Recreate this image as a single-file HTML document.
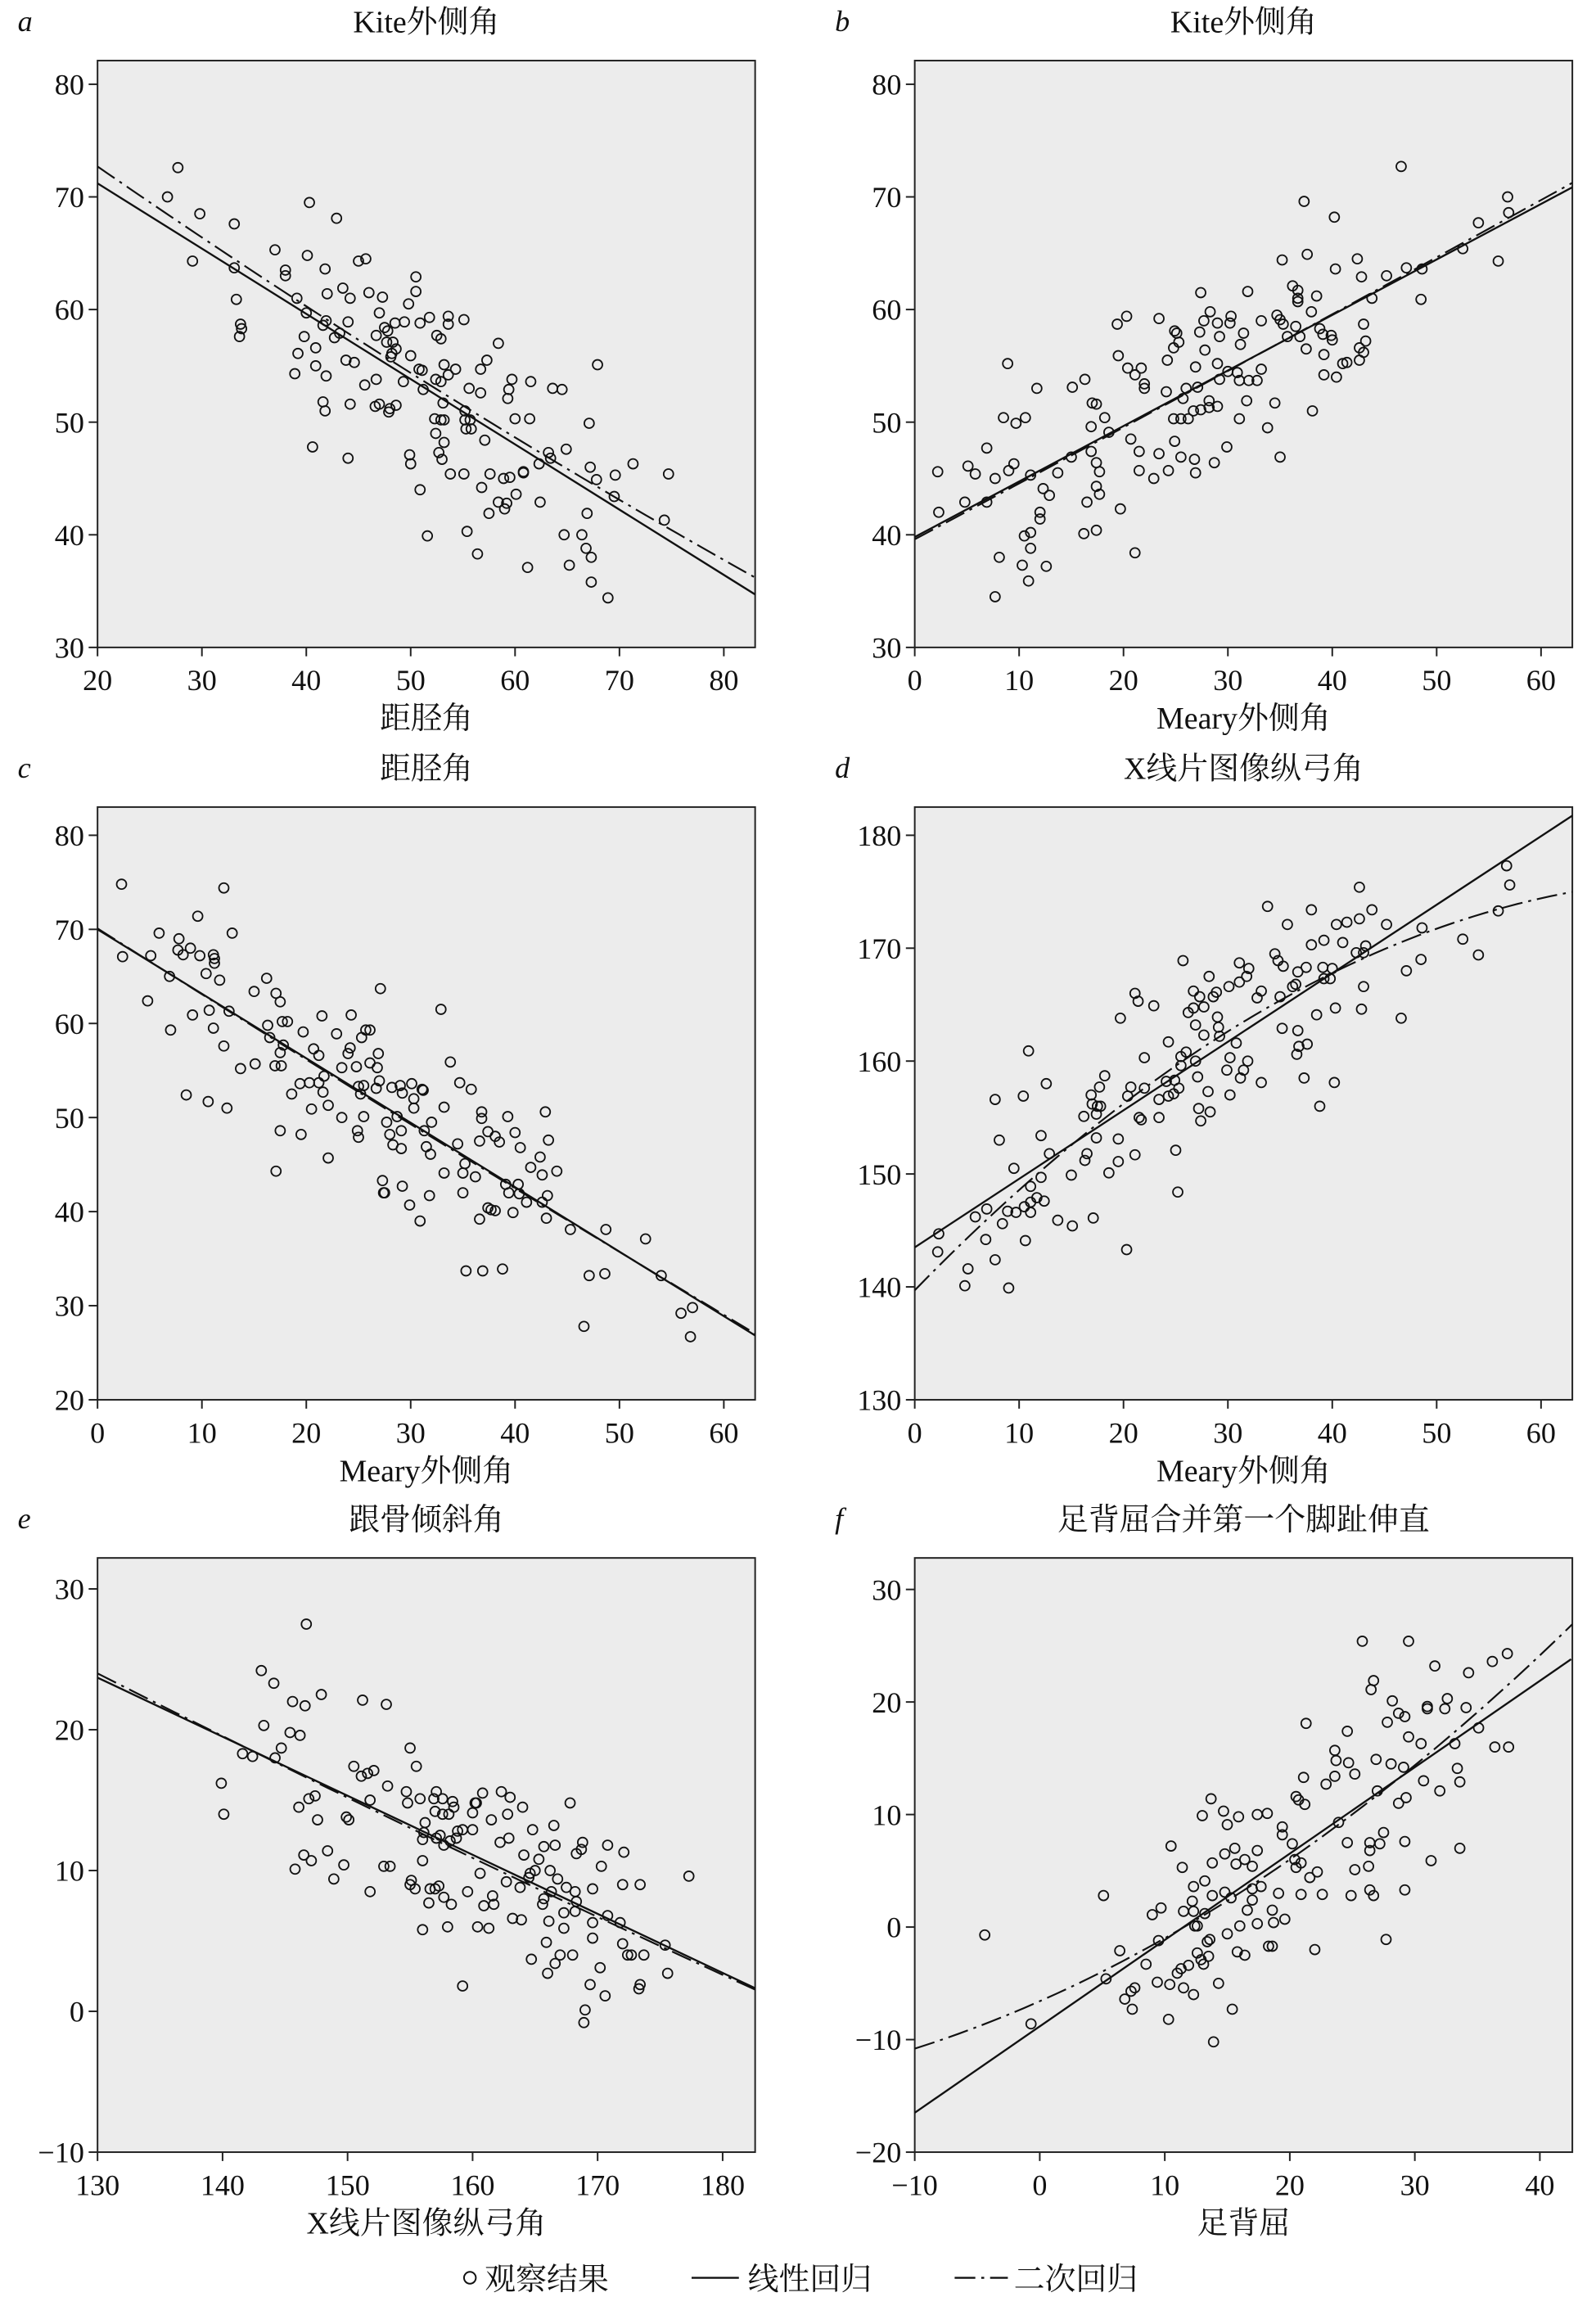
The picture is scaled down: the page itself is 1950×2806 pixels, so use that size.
<!DOCTYPE html>
<html><head><meta charset="utf-8"><style>
html,body{margin:0;padding:0;background:#fff;}
svg{display:block;}
text{font-family:"Liberation Serif","Noto Serif CJK SC",serif;fill:#111;}
</style></head><body>
<svg id="fig" width="1950" height="2806" viewBox="0 0 1080 1554" preserveAspectRatio="none" xmlns="http://www.w3.org/2000/svg"></svg>
<script>
// ---- data: panel a (x 距胫角, y Kite外侧角)
const aX=[26.7,27.7,29.8,29.1,33.1,33.1,33.3,33.7,33.8,33.6,37.0,38.0,38.0,40.3,40.1,39.1,40.0,39.8,39.2,38.9,40.6,40.9,40.9,41.8,42.0,41.9,41.6,41.9,41.6,41.8,42.9,43.5,44.2,44.0,43.2,42.7,43.8,44.6,44.2,44.0,45.0,45.7,46.0,45.6,46.7,46.7,47.0,47.3,47.5,47.7,47.8,48.5,48.3,48.6,48.2,48.1,47.0,46.6,48.0,47.9,48.6,49.3,49.4,49.8,50.0,49.9,50.0,50.5,50.5,50.9,50.8,51.1,51.2,50.9,51.8,51.6,52.5,52.9,52.4,52.9,52.3,52.4,52.7,53.0,53.1,53.2,53.2,53.6,53.6,53.6,53.8,54.3,53.2,52.9,55.1,55.1,55.2,55.2,55.3,55.7,55.8,55.6,55.4,56.7,57.3,56.7,57.1,56.8,57.6,57.5,56.4,58.4,59.7,59.4,59.3,58.9,59.5,58.4,59.2,59.0,60.0,60.1,60.8,60.8,61.5,61.4,61.2,62.3,62.4,63.2,63.4,63.6,64.5,64.9,64.7,65.2,66.4,66.8,66.9,67.1,67.2,67.3,67.3,67.9,67.8,68.9,69.6,69.5,71.3,74.3,74.7];
const aY=[70.0,72.6,68.5,64.3,67.6,63.7,60.9,58.7,58.3,57.6,65.3,63.5,63.0,69.5,64.8,61.0,59.7,57.6,56.1,54.3,47.8,56.6,55.0,63.6,61.4,59.0,58.6,54.1,51.8,51.0,68.1,61.9,61.0,58.9,57.9,57.5,55.5,55.3,51.6,46.8,64.3,64.5,61.5,53.3,53.8,57.7,59.7,61.1,58.4,57.1,58.1,58.8,57.1,56.5,56.1,55.8,51.6,51.4,51.2,50.9,51.5,53.6,58.9,60.5,55.9,47.1,46.3,62.9,61.6,58.8,54.7,54.6,52.9,44.0,59.3,39.9,57.7,57.4,53.8,53.6,50.3,49.0,47.3,46.7,51.7,48.2,55.1,59.4,58.7,54.2,45.4,54.7,50.2,50.2,59.1,45.4,51.0,50.2,49.4,50.2,49.4,53.0,40.3,54.7,55.5,52.6,48.4,44.2,45.4,41.9,38.3,57.0,53.8,52.9,52.1,45.0,45.1,42.9,42.8,42.3,50.3,43.6,45.6,45.5,53.6,50.3,37.1,46.3,42.9,47.3,46.8,53.0,52.9,47.6,40.0,37.3,40.0,38.8,41.9,49.9,46.0,38.0,35.8,55.1,44.9,34.4,45.3,43.4,46.3,41.3,45.4];
const aLinX=[20,83], aLinY=[71.2,34.7];
const aQuadX=[20,51.5,83], aQuadY=[72.7,53.5,36.2];
// ---- panel b (x Meary外侧角, y Kite外侧角)
const bX=[2.2,2.3,4.8,5.1,5.8,6.9,6.9,7.7,7.7,8.1,8.5,8.9,9.0,9.5,9.7,10.3,10.5,10.6,10.9,11.1,11.1,11.1,11.7,12.0,12.0,12.3,12.6,12.9,13.7,15.0,15.1,16.2,16.3,16.5,16.9,16.9,17.0,17.4,17.4,17.4,17.4,17.7,17.7,18.2,18.6,19.4,19.5,19.7,20.3,20.4,20.7,21.1,21.1,21.5,21.5,21.7,22.0,22.0,22.9,23.4,23.4,24.1,24.2,24.3,24.8,24.8,24.9,24.9,25.1,25.3,25.5,25.5,25.7,26.0,26.2,26.7,26.8,26.9,26.9,27.1,27.3,27.4,27.4,27.7,27.8,28.2,28.2,28.3,28.7,29.0,29.0,29.0,29.2,29.2,29.9,30.0,30.2,30.3,30.9,31.1,31.1,31.2,31.5,31.8,31.9,32.0,32.8,33.2,33.2,33.8,34.5,34.7,35.0,35.0,35.2,35.3,35.7,36.2,36.5,36.7,36.7,36.7,36.9,37.3,37.5,37.6,38.0,38.1,38.5,38.8,39.1,39.2,39.2,39.9,40.0,40.2,40.3,40.4,41.0,41.4,42.4,42.6,42.6,42.8,43.0,43.0,43.2,43.8,45.2,46.6,47.1,48.5,48.6,52.5,54.0,55.9,56.8,56.9];
const bY=[45.6,42.0,42.9,46.1,45.4,47.7,42.9,45.0,34.5,38.0,50.4,55.2,45.7,46.3,49.9,37.3,39.9,50.4,35.9,40.2,38.8,45.3,53.0,42.0,41.4,44.1,37.2,43.5,45.5,46.9,53.1,40.1,53.8,42.9,49.6,47.4,51.7,51.6,46.4,44.3,40.4,45.6,43.6,50.4,49.1,58.7,55.9,42.3,59.4,54.8,48.5,38.4,54.2,47.4,45.7,54.8,53.4,53.0,45.0,59.2,47.2,52.7,55.5,45.7,56.6,50.3,48.3,58.1,57.9,57.1,50.3,46.9,52.1,53.0,50.3,51.0,46.7,54.9,45.5,53.1,58.0,61.5,51.1,59.0,56.4,51.9,51.3,59.8,46.4,58.8,55.2,51.4,57.6,53.8,47.8,54.5,58.8,59.4,54.4,53.7,50.3,56.9,57.9,51.9,61.6,53.7,53.7,54.7,59.0,49.5,51.7,59.5,59.1,46.9,64.4,58.7,57.6,62.1,58.5,61.7,61.0,60.7,57.6,69.6,56.5,64.9,59.8,51.0,61.2,58.3,57.8,56.0,54.2,57.7,57.3,68.2,63.6,54.0,55.2,55.3,64.5,55.5,56.6,62.9,56.2,58.7,57.2,61.0,63.0,72.7,63.7,60.9,63.6,65.4,67.7,64.3,70.0,68.6];
const bLinX=[0,63.1], bLinY=[39.8,70.9];
const bQuadX=[0,31.5,63.1], bQuadY=[39.6,55.3,71.3];
// ---- panel c (x Meary外侧角, y 距胫角)
const cX=[2.3,2.4,4.8,5.1,5.9,6.9,7.0,7.8,7.7,8.2,8.9,8.5,9.1,9.6,9.8,10.4,10.6,10.7,11.1,11.2,11.2,11.1,11.7,12.1,12.1,12.4,12.6,12.9,13.7,15.0,15.1,16.2,16.3,16.5,17.0,17.1,17.1,17.5,17.5,17.5,17.6,17.8,17.7,18.2,18.6,19.4,19.5,19.7,20.3,20.5,20.7,21.2,21.2,21.5,21.6,21.7,22.1,22.1,22.9,23.4,23.4,24.0,24.2,24.3,24.8,24.9,25.0,25.0,25.2,25.3,25.5,25.5,25.7,26.1,26.1,26.8,26.7,26.9,27.0,27.1,27.3,27.4,27.5,27.7,28.0,28.2,28.3,28.7,29.0,29.1,29.1,29.2,29.2,29.9,30.1,30.3,30.3,31.1,31.2,31.3,30.9,31.5,31.8,31.9,32.0,32.9,33.2,33.2,33.8,34.5,34.7,35.0,35.0,35.2,35.3,35.8,36.2,36.6,36.6,36.8,36.8,36.9,37.4,37.4,37.7,38.1,38.1,38.5,38.8,39.1,39.3,39.4,39.8,40.0,40.3,40.4,40.5,41.1,41.5,42.4,42.6,42.6,42.9,43.1,43.0,43.2,44.0,45.3,46.6,47.1,48.6,48.7,52.5,54.0,55.9,57.0,56.8];
const cY=[74.8,67.1,62.4,67.2,69.6,65.0,59.3,69.0,67.8,67.3,68.0,52.4,60.9,71.4,67.2,65.3,51.7,61.4,67.3,66.9,66.4,59.5,64.6,74.4,57.6,51.0,61.3,69.6,55.2,63.4,55.7,64.8,59.8,58.5,55.5,63.2,44.3,62.3,56.9,48.6,55.5,57.7,60.2,60.2,52.5,53.6,48.2,59.1,53.7,50.9,57.3,56.6,53.7,60.8,52.7,54.4,51.3,45.7,58.9,55.3,50.0,56.8,57.4,60.9,55.4,48.6,47.9,53.3,52.5,58.5,53.4,50.1,59.3,59.3,55.8,55.3,53.1,56.8,53.9,63.7,43.3,42.0,42.0,49.5,48.2,53.2,47.1,50.1,53.4,48.6,46.7,42.7,52.6,40.7,53.6,52.0,51.0,53.0,52.9,48.6,39.0,46.9,41.7,46.1,49.5,61.5,51.1,44.1,55.9,47.2,53.7,44.1,42.0,45.1,33.7,53.0,43.7,39.2,47.5,50.6,49.9,33.7,48.5,40.4,40.2,40.1,48.0,47.4,33.9,42.9,50.1,42.0,39.9,48.4,42.9,41.9,46.8,41.0,44.7,45.8,41.0,43.9,50.6,41.7,39.3,47.6,44.3,38.1,27.8,33.2,33.4,38.1,37.1,33.2,29.2,29.8,26.7];
const cLinX=[0,63.2], cLinY=[70.0,26.7];
const cQuadX=[0,31.6,63.2], cQuadY=[70.1,48.2,26.9];
// ---- panel d (x Meary外侧角, y X线片图像纵弓角)
const dX=[2.3,2.2,4.8,5.1,5.8,6.9,6.8,7.7,7.7,8.1,8.4,8.9,9.0,9.5,9.7,10.4,10.6,10.5,10.9,11.1,11.1,11.1,11.7,12.1,12.1,12.4,12.6,12.9,13.7,15.0,15.1,16.2,16.3,16.5,16.9,17.0,17.1,17.4,17.4,17.5,17.7,17.8,18.2,18.6,19.5,19.5,19.7,20.3,20.4,20.7,21.1,21.1,21.4,21.5,21.7,22.0,22.0,22.9,23.4,23.4,24.1,24.3,24.3,24.8,24.9,25.0,25.2,25.3,25.5,25.5,25.7,26.0,26.2,26.7,26.7,26.9,26.9,27.1,27.2,27.3,27.4,27.7,27.7,28.1,28.2,28.3,28.6,28.9,29.0,29.1,29.2,29.9,30.1,30.2,30.2,30.8,31.1,31.1,31.2,31.5,31.8,31.9,32.0,32.8,33.2,33.2,33.8,34.5,34.8,35.0,35.2,35.3,35.7,36.2,36.5,36.6,36.7,36.7,36.8,37.3,37.5,37.6,38.0,38.0,38.5,38.8,39.1,39.2,39.2,39.8,40.0,40.2,40.3,40.4,41.0,41.4,42.3,42.6,42.6,42.8,43.0,43.0,43.2,43.8,45.2,46.6,47.1,48.5,48.6,52.5,54.0,55.9,56.7,57.0];
const dY=[144.7,143.1,140.1,141.6,146.2,146.9,144.2,142.4,156.6,153.0,145.6,146.7,139.9,150.5,146.6,156.9,144.1,147.1,160.9,148.9,147.5,146.6,147.9,149.7,153.4,147.6,158.0,151.8,145.9,149.9,145.4,155.1,151.2,151.8,157.0,156.2,146.1,155.3,153.2,156.0,157.7,156.0,158.7,150.1,153.1,151.1,163.8,143.3,156.9,157.7,166.0,151.7,165.3,155.0,154.8,160.3,157.6,164.9,156.6,155.0,158.2,161.7,156.9,157.1,158.3,152.1,148.4,157.6,159.6,160.4,168.9,160.8,164.3,166.2,164.7,163.2,160.0,158.6,155.8,165.7,154.7,162.3,164.8,157.3,167.5,155.5,165.7,166.1,163.9,163.0,162.2,159.2,166.6,160.3,157.0,161.6,168.7,167.0,158.5,159.2,167.5,160.0,168.2,165.6,166.2,158.1,173.7,169.5,168.9,165.7,162.9,168.4,172.1,166.6,166.8,160.6,162.7,167.9,161.3,158.5,168.3,161.5,170.3,173.4,164.1,156.0,168.3,170.7,167.3,167.3,168.2,158.1,164.7,172.1,170.5,172.3,169.6,175.4,172.6,164.6,166.6,169.6,170.2,173.4,172.1,163.8,168.0,169.0,171.8,170.8,169.4,173.3,177.3,175.6];
const dLinX=[0,63.1], dLinY=[143.5,181.8];
const dQuadX=[0,30.3,63.1], dQuadY=[139.7,162.8,175.0];
// ---- panel e (x X线片图像纵弓角, y 跟骨倾斜角)
const eX=[139.9,140.1,141.6,142.4,143.1,143.3,144.1,144.2,144.7,145.4,145.6,145.8,146.1,146.2,146.5,146.6,146.7,146.9,147.1,147.4,147.6,147.9,148.4,148.9,149.7,149.9,150.1,150.5,151.1,151.2,151.6,151.8,151.8,152.1,152.9,153.1,153.2,153.4,154.7,154.8,155.0,155.1,155.0,155.4,155.5,155.8,156.0,156.0,156.0,156.1,156.2,156.5,156.6,156.9,157.0,157.0,157.1,157.1,157.3,157.4,157.6,157.6,157.7,157.7,158.0,158.1,158.3,158.4,158.5,158.2,158.7,158.8,159.2,159.2,159.6,160.0,160.0,160.2,160.3,160.4,160.6,160.8,160.9,161.3,161.5,161.6,161.7,162.2,162.3,162.7,162.8,162.9,163.0,163.2,163.8,163.9,164.0,164.1,164.5,164.6,164.7,164.8,165.0,165.3,165.6,165.7,165.7,165.9,166.0,166.1,166.2,166.3,166.5,166.6,166.6,166.8,167.0,167.3,167.3,167.5,167.8,168.0,168.2,168.2,168.3,168.3,168.7,168.8,169.0,168.9,169.4,169.6,169.6,169.6,170.2,170.3,170.6,170.8,170.8,171.8,172.0,172.0,172.1,172.4,172.7,173.3,173.4,173.4,173.7,175.4,175.6,177.3];
const eY=[16.2,14.0,18.3,18.1,24.2,20.3,23.3,18.0,18.7,19.8,22.0,10.1,14.5,19.6,11.1,21.7,27.5,15.1,10.7,15.3,13.6,22.5,11.4,9.4,10.4,13.8,13.6,17.4,16.7,22.1,16.9,8.5,15.0,17.1,10.3,21.8,16.0,10.3,15.6,14.8,18.7,9.3,9.0,8.7,17.4,15.1,12.2,5.8,10.7,12.7,13.4,7.7,8.7,15.1,14.2,8.7,12.3,15.6,8.9,12.5,14.0,15.1,8.1,11.8,6.0,14.0,7.6,14.9,14.5,12.1,12.3,12.8,12.9,1.8,8.5,12.9,14.1,14.8,14.8,6.0,9.8,15.5,7.5,5.9,13.6,8.2,7.6,12.0,15.6,9.2,14.0,12.3,15.2,6.6,8.8,6.5,14.5,11.1,9.5,9.8,3.7,12.9,10.0,10.8,7.6,8.0,11.7,4.9,2.7,6.4,10.0,8.5,13.2,11.8,3.4,9.4,4.0,7.0,5.9,8.8,14.8,4.0,7.1,8.5,7.8,11.2,11.5,12.0,0.1,-0.8,1.9,6.3,8.7,5.2,3.1,10.3,1.1,11.8,6.8,6.3,4.8,9.0,11.3,4.0,4.0,1.6,1.9,9.0,4.0,4.7,2.7,9.6];
const eLinX=[130,182.7], eLinY=[23.7,1.6];
const eQuadX=[130,156,182.7], eQuadY=[24.0,12.6,1.5];
// ---- panel f (x 足背屈, y 足背屈合并第一个脚趾伸直)
const fX=[-4.4,-0.7,5.1,5.3,6.4,6.8,7.3,7.6,7.4,8.5,9.0,9.4,9.5,9.7,10.3,10.4,10.5,11.0,11.3,11.4,11.5,11.5,11.9,12.2,12.3,12.3,12.3,12.4,12.6,12.6,13.0,12.9,13.1,13.2,13.2,13.4,13.5,13.6,13.7,13.8,13.8,13.9,14.3,14.7,14.8,14.8,15.0,15.0,15.3,15.4,15.6,15.7,15.8,15.9,16.0,16.4,16.4,16.6,17.0,17.0,17.0,17.4,17.4,17.4,17.7,18.2,18.3,18.6,18.6,18.7,19.1,19.4,19.4,19.6,20.2,20.4,20.5,20.5,20.7,20.9,20.9,21.1,21.2,21.3,21.6,22.0,22.2,22.6,22.9,23.6,23.6,23.7,23.9,24.6,24.6,24.7,24.9,25.2,25.2,25.8,26.3,26.4,26.4,26.4,26.5,26.7,26.7,26.9,27.0,27.2,27.5,27.7,27.8,28.1,28.2,28.7,28.7,29.1,29.2,29.2,29.2,29.3,29.5,29.5,30.5,30.7,31.0,31.0,31.3,31.6,32.0,32.4,32.6,33.2,33.4,33.6,33.6,34.1,34.3,35.1,36.2,36.4,37.4,37.5];
const fY=[-0.7,-8.6,2.8,-4.6,-2.1,-6.4,-5.7,-5.4,-7.3,-3.3,1.1,-4.9,-1.2,1.7,-8.2,-5.1,7.2,-4.1,-3.7,5.3,1.4,-5.4,-3.4,2.3,3.6,1.4,-6.0,0.1,0.1,-2.3,9.9,-2.9,-3.3,4.1,1.2,-1.3,-2.6,-1.1,11.4,5.7,2.8,-10.2,-5.0,10.3,6.5,3.1,9.1,-0.6,2.6,-7.3,7.0,5.6,-2.2,9.8,0.1,6.0,-2.5,1.5,5.4,2.4,3.4,10.0,6.8,0.3,3.6,10.1,-1.7,-1.7,1.5,0.4,3.0,8.9,8.2,0.7,7.4,6.0,5.3,11.6,11.3,5.7,2.9,13.3,10.9,18.1,4.4,-2.0,4.9,2.9,12.7,13.4,15.7,14.8,9.3,7.5,17.4,14.6,2.8,5.1,13.6,25.4,5.4,7.5,6.8,3.3,21.1,21.9,2.8,14.9,12.1,7.4,8.4,-1.1,18.2,14.5,20.1,19.0,11.0,14.2,18.7,7.6,3.3,11.5,25.4,16.9,16.3,13.0,19.4,19.6,5.9,23.2,12.1,19.4,20.3,16.3,14.1,12.9,7.0,19.5,22.6,17.7,23.6,16.0,24.3,16.0];
const fLinX=[-10,42.5], fLinY=[-16.5,23.8];
const fQuadX=[-10,20,42.5], fQuadY=[-10.8,6.0,26.8];
// ---- axis tick labels
const aXTicks=[20,30,40,50,60,70,80], aYTicks=[30,40,50,60,70,80];
const bXTicks=[0,10,20,30,40,50,60], bYTicks=[30,40,50,60,70,80];
const cXTicks=[0,10,20,30,40,50,60], cYTicks=[20,30,40,50,60,70,80];
const dXTicks=[0,10,20,30,40,50,60], dYTicks=[130,140,150,160,170,180];
const eXTicks=[130,140,150,160,170,180], eYTicks=[-10,0,10,20,30];
const fXTicks=[-10,0,10,20,30,40], fYTicks=[-20,-10,0,10,20,30];
const titles=['Kite外侧角','Kite外侧角','距胫角','X线片图像纵弓角','跟骨倾斜角','足背屈合并第一个脚趾伸直'];
const xTitles=['距胫角','Meary外侧角','Meary外侧角','Meary外侧角','X线片图像纵弓角','足背屈'];
const letters=['a','b','c','d','e','f'];

const NS='http://www.w3.org/2000/svg';
const svg=document.getElementById('fig');
function mk(tag,attrs,parent){const e=document.createElementNS(NS,tag);for(const k in attrs)e.setAttribute(k,attrs[k]);(parent||svg).appendChild(e);return e;}

// layout (in 1080-wide units)
const boxes=[
 {L:66,R:511,T:41,B:438,x0:20,x1:83,y0:30,y1:82.1},
 {L:619,R:1064,T:41,B:438,x0:0,x1:63.0,y0:30,y1:82.1},
 {L:66,R:511,T:546,B:947,x0:0,x1:63.0,y0:20,y1:83.0},
 {L:619,R:1064,T:546,B:947,x0:0,x1:63.0,y0:130,y1:182.5},
 {L:66,R:511,T:1054,B:1456,x0:130,x1:182.6,y0:-10,y1:32.2},
 {L:619,R:1064,T:1054,B:1456,x0:-10,x1:42.6,y0:-20,y1:32.8}
];
const panels=[
 {xs:aX,ys:aY,lx:aLinX,ly:aLinY,qx:aQuadX,qy:aQuadY,xt:aXTicks,yt:aYTicks},
 {xs:bX,ys:bY,lx:bLinX,ly:bLinY,qx:bQuadX,qy:bQuadY,xt:bXTicks,yt:bYTicks},
 {xs:cX,ys:cY,lx:cLinX,ly:cLinY,qx:cQuadX,qy:cQuadY,xt:cXTicks,yt:cYTicks},
 {xs:dX,ys:dY,lx:dLinX,ly:dLinY,qx:dQuadX,qy:dQuadY,xt:dXTicks,yt:dYTicks},
 {xs:eX,ys:eY,lx:eLinX,ly:eLinY,qx:eQuadX,qy:eQuadY,xt:eXTicks,yt:eYTicks},
 {xs:fX,ys:fY,lx:fLinX,ly:fLinY,qx:fQuadX,qy:fQuadY,xt:fXTicks,yt:fYTicks}
];
function lag(qx,qy,x){let s=0;for(let i=0;i<3;i++){let p=qy[i];for(let j=0;j<3;j++){if(j!==i)p*=(x-qx[j])/(qx[i]-qx[j]);}s+=p;}return s;}

panels.forEach((p,i)=>{
  const b=boxes[i];
  const sx=v=>b.L+(v-b.x0)/(b.x1-b.x0)*(b.R-b.L);
  const sy=v=>b.B-(v-b.y0)/(b.y1-b.y0)*(b.B-b.T);
  const g=mk('g',{});
  
  
  const lt=mk('text',{x:b.L-54,y:b.T-20,'font-size':20,'font-style':'italic'},g);
  lt.textContent=letters[i];
  
  
  const tt=mk('text',{x:(b.L+b.R)/2,y:b.T-19,'font-size':21,'text-anchor':'middle'},g);
  tt.textContent=titles[i];
  
  
  const bg=mk('rect',{x:b.L,y:b.T,width:b.R-b.L,height:b.B-b.T,fill:'#ececec',stroke:'#222','stroke-width':1.1},g);
  
  
  p.yt.forEach(v=>{
    const y=sy(v);
    const tk=mk('line',{x1:b.L-6,x2:b.L,y1:y,y2:y,stroke:'#222','stroke-width':1.1},g);
    
    
    const t=mk('text',{x:b.L-9,y:y+7,'font-size':20,'text-anchor':'end'},g);
    t.textContent=String(v).replace('-','−');
    
    
  });
  p.xt.forEach(v=>{
    const x=sx(v);
    const tk=mk('line',{x1:x,x2:x,y1:b.B,y2:b.B+6,stroke:'#222','stroke-width':1.1},g);
    
    
    const t=mk('text',{x:x,y:b.B+29,'font-size':20,'text-anchor':'middle'},g);
    t.textContent=String(v).replace('-','−');
    
    
  });
  const xl=mk('text',{x:(b.L+b.R)/2,y:b.B+55,'font-size':21,'text-anchor':'middle'},g);
  xl.textContent=xTitles[i];
  
  
  const clip=mk('clipPath',{id:'clip'+i},g);
  mk('rect',{x:b.L,y:b.T,width:b.R-b.L,height:b.B-b.T},clip);
  const pts=mk('g',{'clip-path':'url(#clip'+i+')'},g);
  p.xs.forEach((x,k)=>{
    const c=mk('circle',{cx:sx(x),cy:sy(p.ys[k]),r:3.3,fill:'none',stroke:'#111','stroke-width':1},pts);
    
    
  });
  const ln=mk('line',{x1:sx(p.lx[0]),y1:sy(p.ly[0]),x2:sx(p.lx[1]),y2:sy(p.ly[1]),stroke:'#111','stroke-width':1.3},pts);
  
  
  let d='';
  for(let s=0;s<=60;s++){const x=b.x0+(b.x1-b.x0)*s/60;d+=(s?'L':'M')+sx(x).toFixed(2)+' '+sy(lag(p.qx,p.qy,x)).toFixed(2);}
  const q=mk('path',{d:d,fill:'none',stroke:'#111','stroke-width':1.2,'stroke-dasharray':'14,4,2,4'},pts);
  
  
});

// legend
const lg=mk('g',{});


const lc=mk('circle',{cx:318,cy:1541,r:4,fill:'none',stroke:'#111','stroke-width':1.1},lg);


const l1=mk('text',{x:328,y:1549,'font-size':21},lg);l1.textContent='观察结果';


const ll=mk('line',{x1:468,x2:500,y1:1541,y2:1541,stroke:'#111','stroke-width':1.3},lg);


const l2=mk('text',{x:506,y:1549,'font-size':21},lg);l2.textContent='线性回归';


const lq=mk('line',{x1:646,x2:682,y1:1541,y2:1541,stroke:'#111','stroke-width':1.3,'stroke-dasharray':'14,4,2,4'},lg);


const l3=mk('text',{x:686,y:1549,'font-size':21},lg);l3.textContent='二次回归';


</script>
</body></html>
